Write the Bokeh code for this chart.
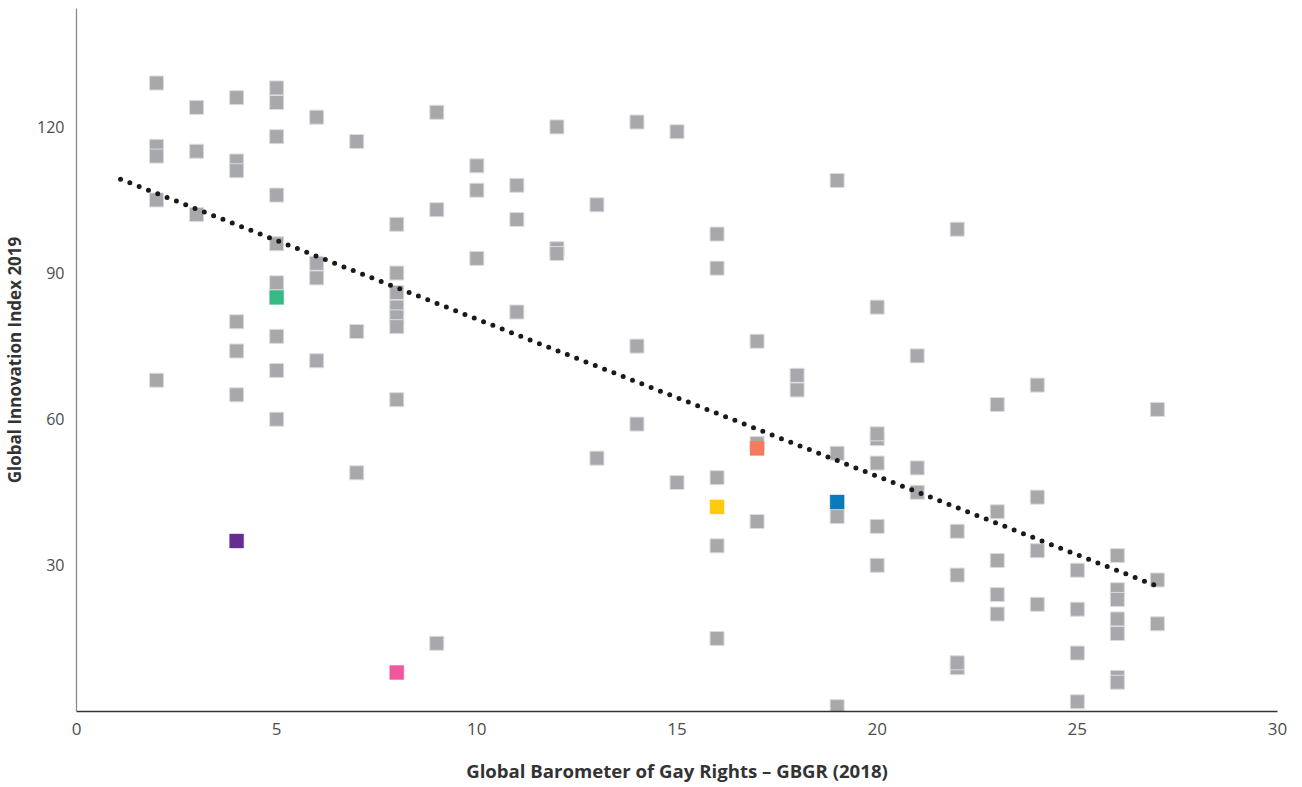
import numpy as np
from bokeh.plotting import figure
from bokeh.models import Range1d, FixedTicker, ColumnDataSource
from bokeh.embed import file_html
from bokeh.resources import INLINE

# ---- data (GBGR score vs GII rank) ----
grey_x = [2, 2, 2, 2, 2,
          3, 3, 3,
          4, 4, 4, 4, 4, 4,
          5, 5, 5, 5, 5, 5, 5, 5, 5,
          6, 6, 6, 6,
          7, 7, 7,
          8, 8, 8, 8, 8, 8, 8,
          9, 9, 9,
          10, 10, 10,
          11, 11, 11,
          12, 12, 12,
          13, 13,
          14, 14, 14,
          15, 15,
          16, 16, 16, 16, 16,
          17, 17, 17,
          18, 18,
          19, 19, 19, 19,
          20, 20, 20, 20, 20, 20,
          21, 21, 21,
          22, 22, 22, 22, 22,
          23, 23, 23, 23, 23,
          24, 24, 24, 24,
          25, 25, 25, 25,
          26, 26, 26, 26, 26, 26, 26,
          27, 27, 27]
grey_y = [129, 116, 114, 105, 68,
          124, 115, 102,
          126, 113, 111, 80, 74, 65,
          128, 125, 118, 106, 96, 88, 77, 70, 60,
          122, 92, 89, 72,
          117, 78, 49,
          100, 90, 86, 83, 81, 79, 64,
          123, 103, 14,
          112, 107, 93,
          108, 101, 82,
          120, 95, 94,
          104, 52,
          121, 75, 59,
          119, 47,
          98, 91, 48, 34, 15,
          76, 55, 39,
          69, 66,
          109, 53, 40, 1,
          83, 56, 57, 51, 38, 30,
          73, 50, 45,
          99, 37, 28, 9, 10,
          63, 41, 31, 24, 20,
          67, 44, 33, 22,
          29, 21, 12, 2,
          32, 25, 23, 19, 16, 7, 6,
          62, 27, 18]

highlight_x = [5, 4, 8, 16, 17, 19]
highlight_y = [85, 35, 8, 42, 54, 43]
highlight_colors = ["#37b985", "#662d91", "#f1579f", "#ffcb0c", "#f47b5b", "#0a7bb8"]

# extent of the dotted trend line
trend_x_range = [1.1, 27.05]

x_ticks = [0, 5, 10, 15, 20, 25, 30]
y_ticks = [30, 60, 90, 120]

x_title = "Global Barometer of Gay Rights \u2013 GBGR (2018)"
y_title = "Global Innovation Index 2019"

# ---- figure ----
p = figure(frame_width=1201, frame_height=703,
           x_range=Range1d(0, 30), y_range=Range1d(0, 144.3),
           output_backend="svg", toolbar_location=None,
           min_border_left=67, min_border_right=20,
           min_border_top=8, min_border_bottom=66)
p.outline_line_color = None
p.xgrid.visible = False
p.ygrid.visible = False
p.background_fill_color = "white"
p.border_fill_color = "white"

grey_src = ColumnDataSource(dict(x=grey_x, y=grey_y))
p.scatter("x", "y", source=grey_src, marker="square", size=14,
          fill_color="#a7a8ab", line_color="#dcdcde", line_width=1)

hl_src = ColumnDataSource(dict(x=highlight_x, y=highlight_y, c=highlight_colors))
p.scatter("x", "y", source=hl_src, marker="square", size=14,
          fill_color="c", line_color="c", line_alpha=0.4, line_width=1)

# linear trend (least squares over all points)
all_x = np.array(grey_x + highlight_x, dtype=float)
all_y = np.array(grey_y + highlight_y, dtype=float)
slope, intercept = np.polyfit(all_x, all_y, 1)
tx = np.array(trend_x_range)
ty = slope * tx + intercept
p.line(tx, ty, line_color="#1a1a1a", line_width=5, line_dash="0 10",
       line_cap="round")

# axes
for ax in (p.xaxis[0], p.yaxis[0]):
    ax.major_tick_line_color = None
    ax.minor_tick_line_color = None
    ax.major_tick_out = 0
    ax.major_tick_in = 0
    ax.major_label_text_font = "Open Sans"
    ax.major_label_text_color = "#4d4d4d"
    ax.axis_label_text_font = "Open Sans"
    ax.axis_label_text_font_style = "bold"
    ax.axis_label_text_color = "#333333"

p.xaxis.ticker = FixedTicker(ticks=x_ticks)
p.yaxis.ticker = FixedTicker(ticks=y_ticks)
p.xaxis.major_label_text_font_size = "17px"
p.yaxis.major_label_text_font_size = "16px"
p.xaxis.axis_line_color = "#333333"
p.xaxis.axis_line_width = 1.3
p.yaxis.axis_line_color = "#8a8a8a"
p.yaxis.axis_line_width = 1.3
p.xaxis.major_label_standoff = 11
p.yaxis.major_label_standoff = 12
p.xaxis.axis_label = x_title
p.yaxis.axis_label = y_title
p.xaxis.axis_label_text_font_size = "18.6px"
p.yaxis.axis_label_text_font_size = "17px"
p.xaxis.axis_label_standoff = 20
p.yaxis.axis_label_standoff = 8

open("out.html", "w").write(file_html(p, INLINE))
